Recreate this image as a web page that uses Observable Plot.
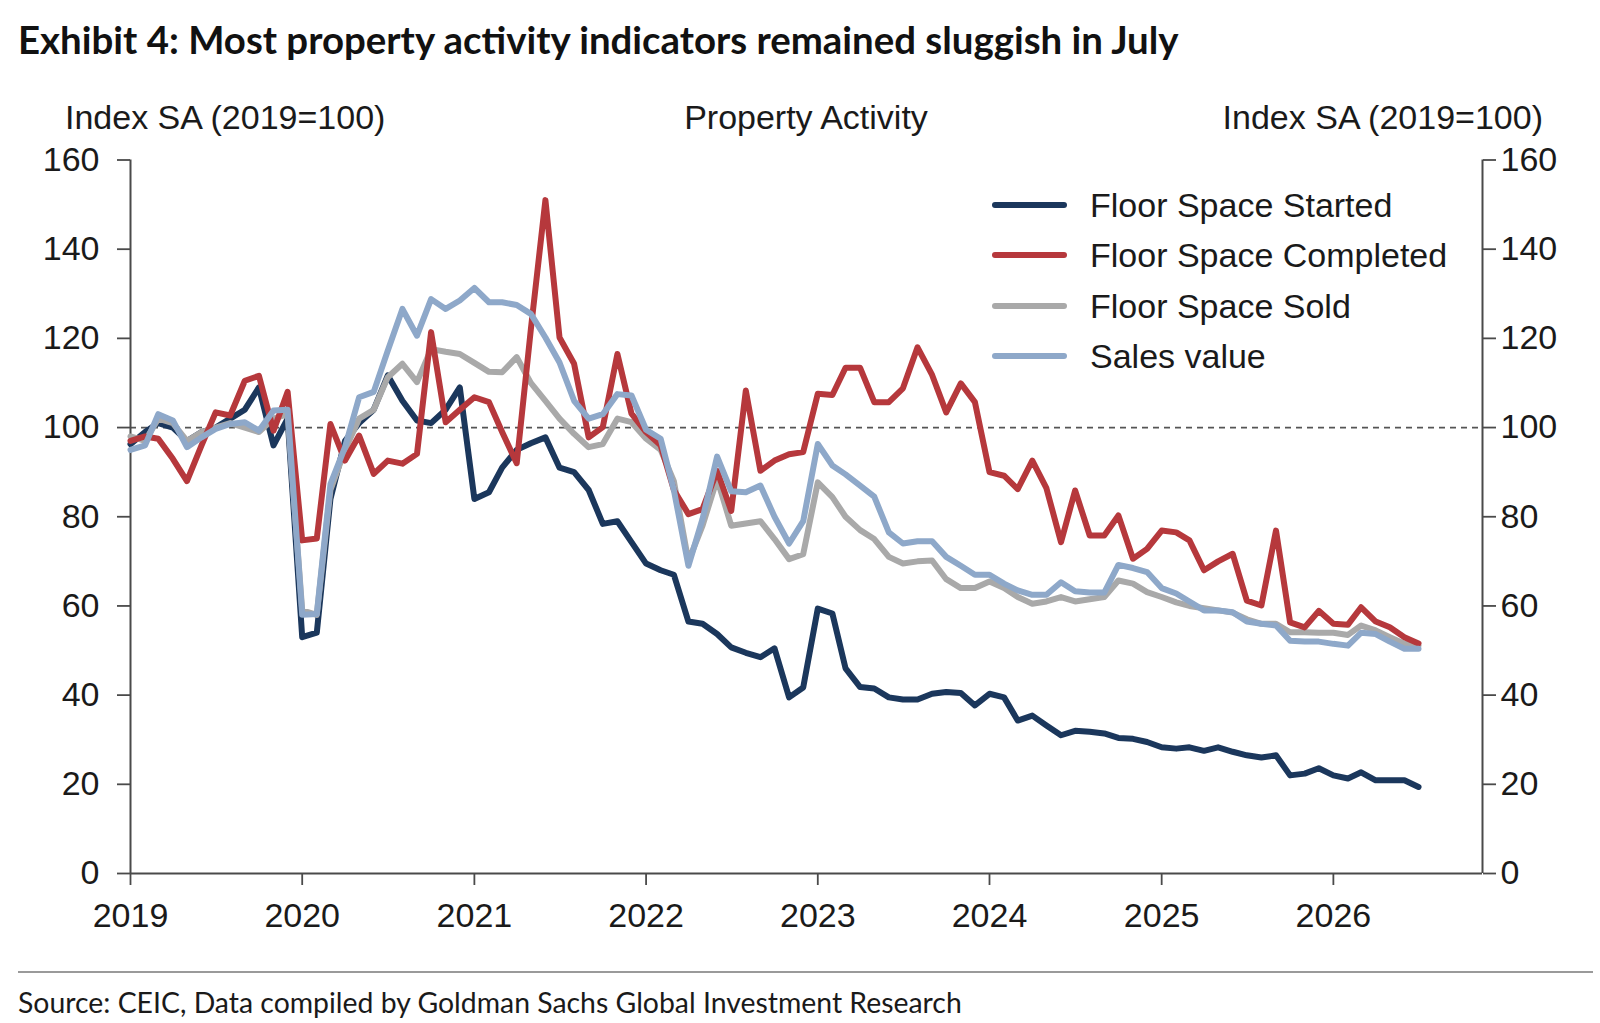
<!DOCTYPE html>
<html>
<head>
<meta charset="utf-8">
<script src="https://cdn.jsdelivr.net/npm/d3@7"></script>
<script src="https://cdn.jsdelivr.net/npm/@observablehq/plot@0.6"></script>
<style>
html,body{margin:0;padding:0;background:#fff;}
#wrap{position:relative;width:1600px;height:1023px;overflow:hidden;background:#fff;}
.t{position:absolute;white-space:nowrap;line-height:1;}
#title{left:18px;top:39px;transform:translateY(-50%);font:700 38.4px Lato, "Open Sans", sans-serif;color:#111;}
.hdr{top:117px;transform:translateY(-50%);font:34px "Liberation Sans", Arial, sans-serif;color:#1a1a1a;}
#hl{left:65px;}
#hc{left:806px;transform:translate(-50%,-50%);}
#hr{right:57px;}
#chart{position:absolute;left:0;top:80px;}
#sep{position:absolute;left:18px;width:1575px;top:971px;height:0;border-top:2px solid #9a9a9a;}
#src{left:18px;top:1002px;transform:translateY(-50%);font:28.4px Lato, "Open Sans", sans-serif;color:#1a1a1a;}
.leg{position:absolute;left:992px;height:0;}
.leg .sw{position:absolute;left:0;top:-3px;width:75px;height:6px;border-radius:3px;}
.leg .lb{position:absolute;left:98px;top:0;transform:translateY(-50%);font:34px "Liberation Sans", Arial, sans-serif;color:#1a1a1a;white-space:nowrap;line-height:1;}
</style>
</head>
<body>
<div id="wrap">
  <div id="title" class="t">Exhibit 4: Most property activity indicators remained sluggish in July</div>
  <div id="hl" class="t hdr">Index SA (2019=100)</div>
  <div id="hc" class="t hdr">Property Activity</div>
  <div id="hr" class="t hdr">Index SA (2019=100)</div>
  <div id="chart"></div>
  <div id="legend"></div>
  <div id="sep"></div>
  <div id="src" class="t">Source: CEIC, Data compiled by Goldman Sachs Global Investment Research</div>
</div>
<script>
// ---- data (monthly, Jan 2019 .. Jul 2026) ----
const startMonth = "2019-01-01";
const axisEnd = "2026-11-14";

const seriesNames = ["Floor Space Started", "Floor Space Completed", "Floor Space Sold", "Sales value"];
const seriesColors = ["#1b375c", "#b6383c", "#a9a9a9", "#8ea8c9"];

const floorSpaceStarted = [
  96.3, 99, 101, 100, 97, 99, 100, 102, 104, 109, 96, 102,
  53, 54, 84, 97, 101, 104, 111.7, 106, 101.6, 101, 104, 109,
  84, 85.5, 91, 95, 96.5, 97.8, 91, 90, 86, 78.4, 79, 74.3,
  69.5, 68, 67, 56.5, 56, 53.7, 50.7, 49.5, 48.5, 50.5, 39.5, 41.7,
  59.4, 58.3, 46, 41.8, 41.5, 39.5, 39, 39, 40.3, 40.7, 40.5, 37.7,
  40.3, 39.5, 34.3, 35.4, 33.2, 31, 32, 31.8, 31.4, 30.4, 30.2, 29.5,
  28.3, 28, 28.3, 27.5, 28.3, 27.3, 26.5, 26, 26.5, 22, 22.4, 23.6,
  22, 21.3, 22.7, 20.9, 20.9, 20.9, 19.4
];
const floorSpaceCompleted = [
  97, 98, 97.5, 93, 88, 96, 103.4, 102.7, 110.5, 111.6, 99.3, 108,
  74.7, 75.1, 100.8, 92.6, 98.2, 89.6, 92.6, 91.9, 94.1, 121.4, 101.2, 104,
  106.8, 105.7, 99, 92, 122, 151, 120.2, 114.3, 97.8, 100.1, 116.5, 103.1,
  99, 96, 86, 80.6, 81.7, 90.3, 81.3, 108.3, 90.3, 92.6, 94, 94.5,
  107.6, 107.3, 113.4, 113.4, 105.7, 105.7, 108.8, 118, 111.8, 103.4, 109.9, 105.7,
  90, 89.2, 86.2, 92.6, 86.4, 74.3, 85.9, 75.8, 75.8, 80.3, 70.6, 72.8,
  76.9, 76.5, 74.7, 68, 70, 71.7, 61.2, 60.1, 76.9, 56.3, 55.2, 58.9,
  56, 55.8, 59.7, 56.5, 55.2, 53, 51.6
];
const floorSpaceSold = [
  98, 97, 102, 101, 97, 99, 100, 101, 100, 99, 102, 103,
  59, 58, 86, 95, 102, 104, 111.3, 114.3, 110.2, 117.6, 117, 116.5,
  114.5, 112.5, 112.4, 115.8, 110, 106, 102, 98.6, 95.6, 96.3, 102, 101.2,
  97.5, 95, 88, 70, 78, 88.5, 78, 78.5, 79, 75, 70.5, 71.6,
  87.7, 84.4, 80, 77, 75, 71, 69.5, 70, 70.2, 66, 64, 64,
  65.5, 64, 62, 60.5, 61, 62, 61, 61.5, 62, 65.7, 65, 63.1,
  62, 60.8, 60, 59.5, 59, 58.5, 57, 56, 56, 54.1, 54.1, 54,
  54, 53.5, 55.6, 54.5, 53, 51.5, 51.1
];
const salesValue = [
  95, 96, 103, 101.6, 95.6, 97.8, 99.7, 100.8, 101.2, 99.3, 103.8, 104,
  58, 58.2, 87.3, 95.6, 106.8, 108, 117.3, 126.6, 120.6, 128.8, 126.6, 128.5,
  131.3, 128.1, 128.1, 127.5, 125.5, 120.2, 114.6, 106, 102, 103, 107.5, 107.2,
  99.5, 97.5, 86, 69, 79.5, 93.5, 85.7, 85.5, 87, 80, 74, 79,
  96.3, 91.5, 89.5, 87, 84.5, 76.5, 74, 74.5, 74.5, 71, 69, 67,
  67, 65, 63.5, 62.5, 62.5, 65.3, 63.3, 63, 63, 69.2, 68.5, 67.6,
  64, 62.8, 61, 59, 59, 58.6, 56.5, 56, 55.6, 52.2, 52, 52,
  51.5, 51.1, 54, 53.7, 52, 50.4, 50.4
];
const yTicks = [0, 20, 40, 60, 80, 100, 120, 140, 160];
const yearTickLabels = ["2019", "2020", "2021", "2022", "2023", "2024", "2025", "2026"];
const referenceLevel = 100;

// ---- build ----
const d0 = new Date(startMonth);
const d1 = new Date(axisEnd);
const seriesValues = [floorSpaceStarted, floorSpaceCompleted, floorSpaceSold, salesValue];
const rows = (vals) => vals.map((v, i) => ({date: d3.utcMonth.offset(d0, i), value: v}));
const yearTicks = yearTickLabels.map(y => new Date(y + "-01-01"));
const drawOrder = [0, 2, 1, 3];
const axisColor = "#4a4a4a";

const chart = Plot.plot({
  width: 1600,
  height: 865,
  marginLeft: 130,
  marginRight: 118,
  marginTop: 79.5,
  marginBottom: 72,
  style: {fontFamily: "'Liberation Sans', Arial, sans-serif", fontSize: "34px", color: "#1a1a1a", background: "transparent", overflow: "visible"},
  x: {type: "utc", domain: [d0, d1]},
  y: {domain: [0, 160]},
  marks: [
    Plot.ruleY([referenceLevel], {stroke: "#555", strokeWidth: 1.7, strokeDasharray: "6,5"}),
    Plot.axisX({ticks: yearTicks, tickFormat: d3.utcFormat("%Y"), tickSize: 12, tickPadding: 17, stroke: axisColor, strokeWidth: 1.8, label: null, fontSize: 34}),
    Plot.axisY({anchor: "left", ticks: yTicks, tickSize: 13, tickPadding: 18, stroke: axisColor, strokeWidth: 1.8, label: null, fontSize: 34}),
    Plot.axisY({anchor: "right", ticks: yTicks, tickSize: 13, tickPadding: 5, stroke: axisColor, strokeWidth: 1.8, label: null, fontSize: 34}),
    Plot.ruleY([0], {stroke: axisColor, strokeWidth: 2}),
    Plot.ruleX([d0, d1], {stroke: axisColor, strokeWidth: 2}),
    ...drawOrder.map(k => Plot.line(rows(seriesValues[k]), {
      x: "date", y: "value", stroke: seriesColors[k], strokeWidth: 6,
      strokeLinejoin: "round", strokeLinecap: "round"
    }))
  ]
});
document.getElementById("chart").appendChild(chart);

// legend (inside plot, top right)
const legendRows = [205, 255, 306, 356];
const leg = document.getElementById("legend");
seriesNames.forEach((name, k) => {
  const row = document.createElement("div");
  row.className = "leg";
  row.style.top = legendRows[k] + "px";
  row.innerHTML = `<div class="sw" style="background:${seriesColors[k]}"></div><div class="lb">${name}</div>`;
  leg.appendChild(row);
});
</script>
</body>
</html>
